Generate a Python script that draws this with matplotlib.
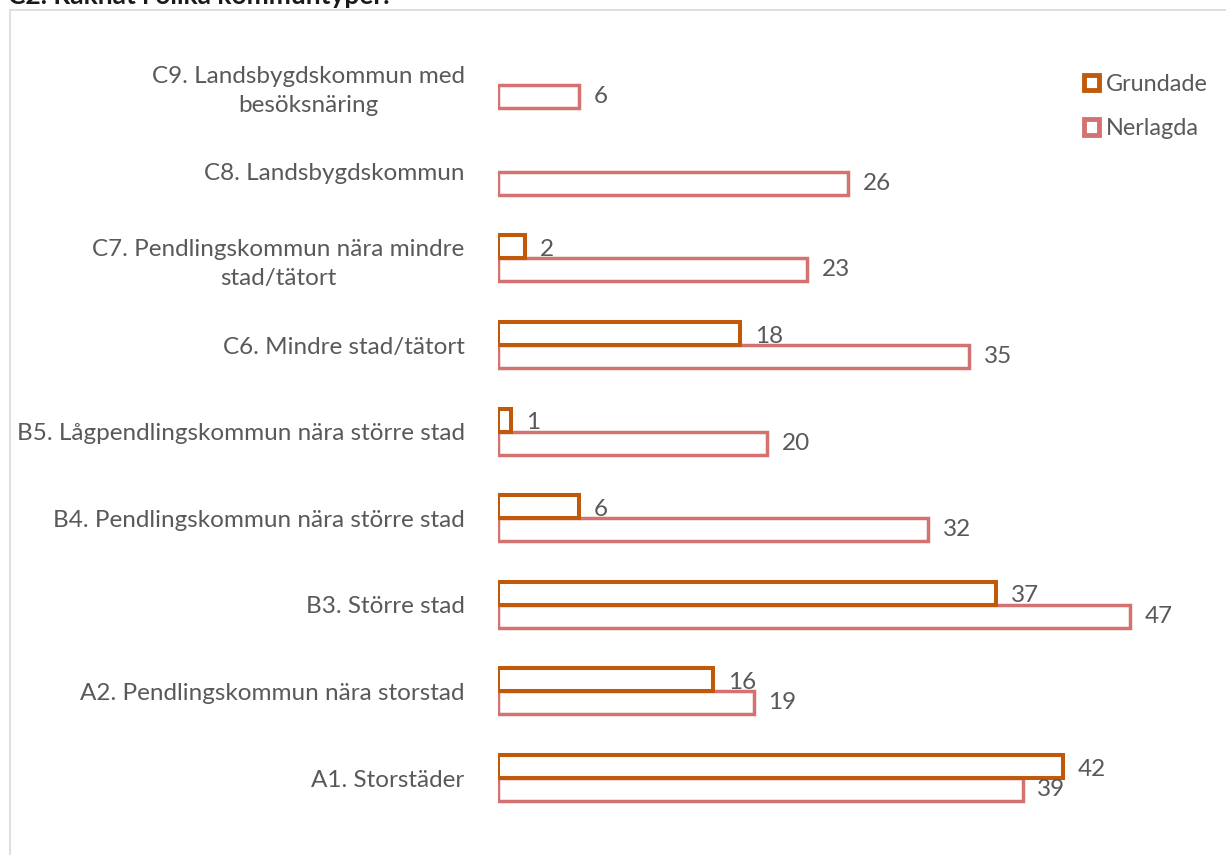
import matplotlib
matplotlib.use("Agg")
import matplotlib.pyplot as plt
from matplotlib.patches import Rectangle, Patch
import numpy as np

kategorier = [
    "A1. Storstäder",
    "A2. Pendlingskommun nära storstad",
    "B3. Större stad",
    "B4. Pendlingskommun nära större stad",
    "B5. Lågpendlingskommun nära större stad",
    "C6. Mindre stad/tätort",
    "C7. Pendlingskommun nära mindre\nstad/tätort",
    "C8. Landsbygdskommun",
    "C9. Landsbygdskommun med\nbesöksnäring",
]
grundade = [42, 16, 37, 6, 1, 18, 2, 0, 0]
nerlagda = [39, 19, 47, 32, 20, 35, 23, 26, 6]

plt.rcParams['font.family'] = ['Lato', 'DejaVu Sans']

W, H = 1226, 855
fig = plt.figure(figsize=(W / 100, H / 100), dpi=100)

# grå ram runt diagrammet
fig.patches.append(Rectangle((10 / W, -0.1), 1.2, 1 - 10 / H + 0.1,
                             transform=fig.transFigure, fill=False,
                             edgecolor='#d9d9d9', linewidth=1.2))

fig.text(8 / W, 1 - 4 / H, "C2. Räknat i olika kommuntyper.", fontsize=19,
         fontweight='bold', color='#1a1a1a', va='baseline', ha='left')

skala = 13.45  # px per enhet
x0 = 498
xmax = 52
ax = fig.add_axes([x0 / W, 0, xmax * skala / W, 1 - 10 / H])
ax.set_xlim(0, xmax)
steg = 86.6
ax.set_ylim(-(H - 778) / steg, (778 - 10) / steg)

y = np.arange(len(kategorier))
h = 0.265
c_gr = '#c05a0a'
c_ne = '#d47272'
fs = 17.5

for i in range(len(kategorier)):
    if grundade[i] > 0:
        ax.barh(y[i] + h / 2, grundade[i], height=h, facecolor='white',
                edgecolor=c_gr, linewidth=2.9, zorder=3)
        ax.text(grundade[i] + 1.1, y[i] + h / 2 - 0.03, str(grundade[i]),
                va='center', ha='left', fontsize=fs, color='#595959')
    ax.barh(y[i] - h / 2, nerlagda[i], height=h, facecolor='white',
            edgecolor=c_ne, linewidth=2.5, zorder=2)
    ax.text(nerlagda[i] + 1.1, y[i] - h / 2, str(nerlagda[i]),
            va='center', ha='left', fontsize=fs, color='#595959')

ax.set_yticks(y)
ax.set_yticklabels(kategorier, fontsize=fs, color='#595959',
                   multialignment='center', linespacing=1.45)
ax.tick_params(axis='y', length=0, pad=24)
ax.set_xticks([])
for s in ax.spines.values():
    s.set_visible(False)

handles = [Patch(facecolor='white', edgecolor=c_gr, linewidth=3.5, label='Grundade'),
           Patch(facecolor='white', edgecolor=c_ne, linewidth=3.5, label='Nerlagda')]
fig.legend(handles=handles, loc='upper left', bbox_to_anchor=(1072 / W, 1 - 62 / H),
           frameon=False, fontsize=16.8, labelcolor='#595959', handlelength=0.65,
           handleheight=0.65, handletextpad=0.3, labelspacing=1.0, borderpad=0)

fig.savefig("out.png", dpi=100)
